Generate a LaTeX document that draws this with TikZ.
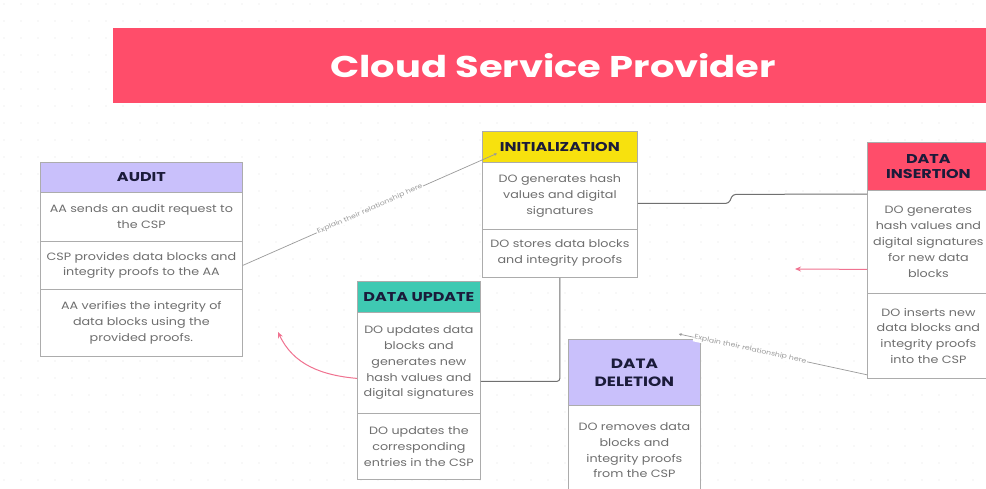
\documentclass[tikz,border=0pt]{standalone}
\usepackage{fontspec}
\setmainfont{Poppins}
\newfontfamily\bodyfam{Poppins}[FakeStretch=1.2]
\newfontfamily\headfam{Poppins}[FakeStretch=1.25]
\newfontfamily\titlefam{Poppins}[FakeStretch=1.28]
\usetikzlibrary{arrows.meta,calc}
\definecolor{bannerred}{HTML}{FF4D6A}
\definecolor{lavhead}{HTML}{C9C0FB}
\definecolor{yelhead}{HTML}{F7E10E}
\definecolor{tealhead}{HTML}{3FC9B2}
\definecolor{pinkline}{HTML}{F07290}
\definecolor{bodytxt}{HTML}{6E6E6E}
\definecolor{headtxt}{HTML}{1B1B3A}
\definecolor{edgegray}{HTML}{9A9A9A}
\definecolor{edgedark}{HTML}{707070}
\tikzset{
  cell/.style={draw=gray!65, line width=0.8pt, fill=white, anchor=north west,
    inner sep=0pt, align=center, text=bodytxt,
    font=\bodyfam\fontsize{10.6}{15.8}\selectfont},
  headcell/.style={cell, text=headtxt, font=\headfam\fontsize{12.8}{15}\bfseries},
  lightedge/.style={draw=edgegray, line width=0.7pt},
  darkedge/.style={draw=edgedark, line width=1pt, rounded corners=3pt},
  pinkarrow/.style={draw=pinkline, line width=1pt, -{Stealth[length=6pt,width=5pt]}},
  edgelabel/.style={sloped, fill=white, inner sep=0.8pt, text=edgegray,
    font=\bodyfam\fontsize{6.5}{7}\selectfont}
}
\begin{document}
\begin{tikzpicture}[x=1pt,y=-1pt]
\useasboundingbox (0,0) rectangle (986,488);
\clip (0,0) rectangle (986,488);
\fill[white] (0,0) rectangle (986,488);
\foreach \i in {0,...,58} {
  \foreach \j in {0,...,28} {
    \fill[gray!22] (\i*17+4,\j*17+4) circle (0.55);
  }
}
% title banner
\node[fill=bannerred, anchor=north west, minimum width=880, minimum height=75,
  inner sep=0pt, text=white, font=\titlefam\fontsize{30}{32}\bfseries] (title) at (113,28)
  {Cloud Service Provider};

% AUDIT
\node[headcell, fill=lavhead, minimum width=202, minimum height=30] (audh) at (40,162) {AUDIT};
\node[cell, minimum width=202, minimum height=49] (aud1) at (40,192) {AA sends an audit request to\\the CSP};
\node[cell, minimum width=202, minimum height=48] (aud2) at (40,241) {CSP provides data blocks and\\integrity proofs to the AA};
\node[cell, minimum width=202, minimum height=67] (aud3) at (40,289) {AA verifies the integrity of\\data blocks using the\\provided proofs.};

% INITIALIZATION
\node[headcell, fill=yelhead, minimum width=155, minimum height=31] (inih) at (482,131) {INITIALIZATION};
\node[cell, minimum width=155, minimum height=67] (ini1) at (482,162) {DO generates hash\\values and digital\\signatures};
\node[cell, minimum width=155, minimum height=48] (ini2) at (482,229) {DO stores data blocks\\and integrity proofs};

% DATA INSERTION
\node[headcell, fill=bannerred, minimum width=122, minimum height=48] (insh) at (867,142) {DATA\\INSERTION};
\node[cell, minimum width=122, minimum height=103] (ins1) at (867,190) {DO generates\\hash values and\\digital signatures\\for new data\\blocks};
\node[cell, minimum width=122, minimum height=85] (ins2) at (867,293) {DO inserts new\\data blocks and\\integrity proofs\\into the CSP};

% DATA UPDATE
\node[headcell, fill=tealhead, minimum width=123, minimum height=31] (updh) at (357,281) {DATA UPDATE};
\node[cell, minimum width=123, minimum height=101] (upd1) at (357,312) {DO updates data\\blocks and\\generates new\\hash values and\\digital signatures};
\node[cell, minimum width=123, minimum height=66] (upd2) at (357,413) {DO updates the\\corresponding\\entries in the CSP};

% DATA DELETION
\node[headcell, fill=lavhead, minimum width=132, minimum height=66,
  font=\headfam\fontsize{13.5}{18}\bfseries] (delh) at (568,339) {DATA\\DELETION};
\node[cell, minimum width=132, minimum height=90] (del1) at (568,405) {DO removes data\\blocks and\\integrity proofs\\from the CSP};

% connectors
\draw[lightedge, -{Stealth[length=3pt,width=3pt]}] (aud2.east) --
  node[edgelabel] {Explain their relationship here} ($(inih.west)+(15,6.5)$);
\draw[lightedge, -{Stealth[length=3pt,width=3pt]}] ($(ins2.south west)+(0,-4)$) --
  node[edgelabel, pos=0.62] {Explain their relationship here} ($(delh.north east)+(-22,-5)$);
\draw[darkedge] ($(ini1.east)+(0,7.5)$) -- ++(91,0) -- ++(4,-9) -- ($(ins1.north west)+(0,4)$);
\draw[darkedge] (ini2.south) |- ($(upd1.east)+(0,18.5)$);

\coordinate (pinkend1) at (795,269);
\coordinate (pinkend2) at (278,332);
\draw[pinkarrow] ($(ins1.west)+(0,27.5)$) -- (pinkend1);
\draw[pinkarrow] ($(upd1.west)+(0,15.5)$) to[out=175,in=-65] (pinkend2);
\end{tikzpicture}
\end{document}
